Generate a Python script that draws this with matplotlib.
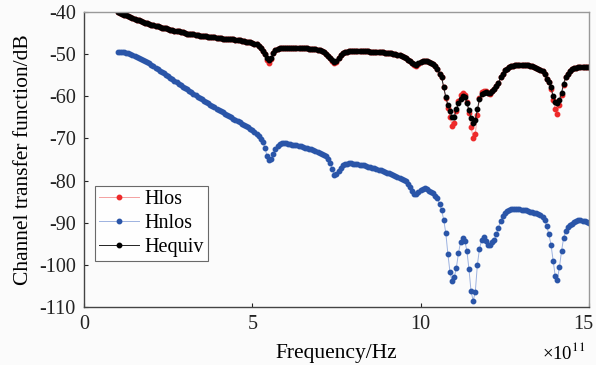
import numpy as np
import matplotlib
matplotlib.use("Agg")
import matplotlib.pyplot as plt
from matplotlib.transforms import ScaledTranslation

plt.rcParams['font.family'] = ['Liberation Serif', 'DejaVu Serif']
plt.rcParams['axes.unicode_minus'] = False
plt.rcParams['mathtext.fontset'] = 'stix'

# Frequency grid in units of 1e11 Hz (225 samples from 1 to 15)
freq = np.linspace(1.0, 15.0, 225)

h_equiv = [
    -40.0, -40.2, -40.4, -40.6, -40.8, -41.0, -41.2, -41.4, -41.6, -41.8,
    -42.0, -42.1, -42.3, -42.5, -42.6, -42.8, -43.0, -43.1, -43.3, -43.4,
    -43.5, -43.7, -43.8, -43.9, -44.1, -44.2, -44.3, -44.4, -44.5, -44.6,
    -44.7, -44.8, -45.0, -45.1, -45.2, -45.3, -45.3, -45.4, -45.5, -45.6,
    -45.7, -45.8, -45.8, -45.9, -45.9, -46.0, -46.0, -46.1, -46.2, -46.2,
    -46.3, -46.3, -46.4, -46.4, -46.5, -46.5, -46.6, -46.7, -46.7, -46.8,
    -46.9, -47.0, -47.1, -47.2, -47.3, -47.5, -47.7, -48.0, -48.5, -49.2,
    -50.0, -51.0, -51.4, -50.9, -49.8, -49.1, -48.7, -48.6, -48.5, -48.5,
    -48.5, -48.5, -48.5, -48.5, -48.5, -48.5, -48.5, -48.5, -48.5, -48.6,
    -48.6, -48.7, -48.7, -48.8, -48.8, -48.9, -49.0, -49.2, -49.5, -49.9,
    -50.4, -51.0, -51.5, -51.8, -51.6, -51.0, -50.3, -49.8, -49.5, -49.4,
    -49.3, -49.3, -49.2, -49.2, -49.2, -49.2, -49.2, -49.3, -49.3, -49.3,
    -49.4, -49.4, -49.5, -49.5, -49.5, -49.6, -49.6, -49.7, -49.7, -49.8,
    -49.8, -49.9, -50.0, -50.1, -50.2, -50.4, -50.6, -50.9, -51.3, -51.7,
    -52.1, -52.4, -52.5, -52.2, -51.8, -51.6, -51.6, -51.6, -51.8, -52.0,
    -52.3, -52.8, -53.5, -54.6, -55.5, -57.8, -60.2, -62.0, -63.6, -65.0,
    -64.8, -63.1, -61.7, -60.6, -60.0, -60.1, -61.5, -63.3, -65.2, -66.4,
    -65.7, -63.1, -60.6, -59.4, -59.1, -59.0, -59.1, -59.3, -58.8, -58.3,
    -57.6, -56.9, -55.5, -54.6, -53.8, -53.4, -53.1, -52.9, -52.7, -52.6,
    -52.5, -52.5, -52.5, -52.5, -52.6, -52.6, -52.7, -52.8, -53.0, -53.2,
    -53.4, -53.7, -54.1, -54.8, -55.8, -56.6, -57.9, -59.9, -61.3, -61.6,
    -60.8, -59.2, -57.0, -55.5, -54.7, -54.0, -53.6, -53.3, -53.2, -53.1,
    -53.0, -53.0, -53.0, -53.0, -53.0,
]

h_los = [
    -40.0, -40.2, -40.4, -40.6, -40.8, -41.0, -41.2, -41.4, -41.6, -41.8,
    -42.0, -42.1, -42.3, -42.5, -42.6, -42.8, -43.0, -43.1, -43.3, -43.4,
    -43.5, -43.7, -43.8, -43.9, -44.1, -44.2, -44.3, -44.4, -44.5, -44.6,
    -44.7, -44.8, -45.0, -45.1, -45.2, -45.3, -45.3, -45.4, -45.5, -45.6,
    -45.7, -45.8, -45.8, -45.9, -45.9, -46.0, -46.0, -46.1, -46.2, -46.2,
    -46.3, -46.3, -46.4, -46.4, -46.5, -46.5, -46.6, -46.7, -46.7, -46.8,
    -46.9, -47.0, -47.1, -47.2, -47.3, -47.5, -47.7, -48.0, -48.5, -49.2,
    -50.0, -51.3, -52.0, -51.2, -49.8, -49.1, -48.7, -48.6, -48.5, -48.5,
    -48.5, -48.5, -48.5, -48.5, -48.5, -48.5, -48.5, -48.5, -48.5, -48.6,
    -48.6, -48.7, -48.7, -48.8, -48.8, -48.9, -49.0, -49.2, -49.5, -49.9,
    -50.4, -51.0, -51.7, -52.2, -51.9, -51.0, -50.3, -49.8, -49.5, -49.4,
    -49.3, -49.3, -49.2, -49.2, -49.2, -49.2, -49.2, -49.3, -49.3, -49.3,
    -49.4, -49.4, -49.5, -49.5, -49.5, -49.6, -49.6, -49.7, -49.7, -49.8,
    -49.8, -49.9, -50.0, -50.1, -50.2, -50.4, -50.6, -50.9, -51.3, -51.7,
    -52.1, -52.6, -52.9, -52.4, -51.8, -51.6, -51.6, -51.6, -51.8, -52.0,
    -52.3, -52.8, -53.5, -54.6, -55.5, -57.9, -60.5, -62.8, -65.0, -67.0,
    -66.3, -63.4, -61.2, -59.8, -59.3, -59.6, -61.4, -64.0, -67.3, -69.8,
    -69.0, -64.5, -60.5, -59.0, -58.8, -58.8, -59.1, -59.4, -58.8, -58.3,
    -57.6, -56.9, -55.5, -54.6, -53.8, -53.4, -53.1, -52.9, -52.7, -52.6,
    -52.5, -52.5, -52.5, -52.5, -52.6, -52.6, -52.7, -52.8, -53.0, -53.2,
    -53.4, -53.7, -54.1, -54.8, -55.8, -56.6, -58.2, -60.8, -63.0, -64.2,
    -62.0, -59.6, -57.2, -55.5, -54.7, -54.0, -53.6, -53.3, -53.2, -53.1,
    -53.0, -53.0, -53.0, -53.0, -53.0,
]

h_nlos = [
    -49.5, -49.5, -49.5, -49.6, -49.7, -49.8, -50.0, -50.2, -50.4, -50.6,
    -50.9, -51.1, -51.4, -51.6, -51.9, -52.2, -52.5, -52.8, -53.2, -53.5,
    -53.9, -54.2, -54.5, -54.9, -55.2, -55.6, -55.9, -56.3, -56.6, -57.0,
    -57.3, -57.7, -58.0, -58.3, -58.7, -59.0, -59.4, -59.7, -60.1, -60.4,
    -60.7, -61.0, -61.3, -61.6, -62.0, -62.3, -62.6, -62.9, -63.2, -63.5,
    -63.8, -64.1, -64.4, -64.7, -65.0, -65.3, -65.6, -65.9, -66.2, -66.5,
    -66.8, -67.1, -67.4, -67.7, -68.0, -68.4, -68.9, -69.5, -70.2, -70.9,
    -72.2, -74.2, -75.2, -74.9, -73.6, -72.5, -71.8, -71.4, -71.2, -71.2,
    -71.2, -71.3, -71.4, -71.5, -71.5, -71.6, -71.8, -71.9, -72.0, -72.2,
    -72.3, -72.4, -72.6, -72.7, -72.9, -73.1, -73.4, -73.6, -73.9, -74.2,
    -74.8, -75.8, -77.3, -78.6, -78.4, -77.7, -76.9, -76.4, -76.1, -76.0,
    -75.9, -75.9, -76.0, -76.1, -76.1, -76.2, -76.3, -76.4, -76.5, -76.7,
    -76.8, -76.9, -77.1, -77.2, -77.4, -77.6, -77.8, -77.9, -78.1, -78.3,
    -78.5, -78.7, -78.9, -79.1, -79.4, -79.6, -79.9, -80.2, -80.8, -81.6,
    -82.4, -83.2, -83.3, -82.8, -82.3, -82.0, -81.8, -82.0, -82.4, -82.7,
    -83.0, -83.6, -84.2, -85.5, -87.0, -89.3, -92.5, -97.5, -101.8, -103.9,
    -103.0, -100.7, -97.3, -94.6, -93.7, -94.3, -96.6, -101.0, -106.3, -108.5,
    -106.5, -100.0, -96.2, -94.2, -93.5, -94.3, -95.3, -95.3, -94.6, -94.1,
    -92.8, -91.2, -89.6, -88.5, -87.6, -87.2, -87.0, -86.8, -86.7, -86.7,
    -86.7, -86.8, -86.9, -87.0, -87.1, -87.2, -87.4, -87.5, -87.6, -87.7,
    -87.9, -88.2, -88.7, -89.4, -90.8, -92.8, -95.2, -99.0, -102.6, -103.6,
    -100.6, -96.8, -93.6, -92.0, -91.1, -90.6, -90.2, -89.8, -89.5, -89.4,
    -89.4, -89.5, -89.7, -89.9, -90.0,
]

x_ticks = [0, 5, 10, 15]
y_ticks = [-40, -50, -60, -70, -80, -90, -100, -110]

fig = plt.figure(figsize=(5.96, 3.65), dpi=100, facecolor='#fbfbfb')
ax = fig.add_axes([0.141, 0.159, 0.847, 0.808])
ax.set_facecolor('#fbfbfb')

ax.plot(freq, h_los, '-', color='#f4a0a0', lw=0.7, marker='o', ms=3.2,
        mfc='#ee2a2a', mec='#ee2a2a', label='Hlos')
ax.plot(freq, h_nlos, '-', color='#9db2e0', lw=0.7, marker='o', ms=3.2,
        mfc='#2a55a8', mec='#2a55a8', label='Hnlos')
ax.plot(freq, h_equiv, '-', color='#222222', lw=0.7, marker='o', ms=3.2,
        mfc='#000000', mec='#000000', label='Hequiv')

ax.set_xlim(0, 15)
ax.set_ylim(-110, -40)
ax.set_xticks(x_ticks)
ax.set_yticks(y_ticks)
ax.set_xticklabels([str(t) for t in x_ticks])
ax.set_yticklabels([str(t) for t in y_ticks])
ax.tick_params(direction='in', length=3, width=0.8, labelsize=14.5, colors='#222222',
               top=False, right=False)
ax.tick_params(axis='y', pad=6)
ax.tick_params(axis='x', pad=6)
# keep the last x tick label inside the canvas
last = ax.get_xticklabels()[-1]
last.set_transform(last.get_transform() + ScaledTranslation(-4 / 72, 0, fig.dpi_scale_trans))

for s in ['left', 'bottom']:
    ax.spines[s].set_color('#444444')
    ax.spines[s].set_linewidth(1.0)
for s in ['top', 'right']:
    ax.spines[s].set_color('#999999')
    ax.spines[s].set_linewidth(1.0)

ax.set_xlabel('Frequency/Hz', fontsize=15.5, labelpad=7)
ax.set_ylabel('Channel transfer function/dB', fontsize=15.5, labelpad=4)
fig.text(0.983, 0.035, r'×10$^{11}$', ha='right', va='center', fontsize=13.5)

leg = ax.legend(loc='upper left', bbox_to_anchor=(0.021, 0.41), fontsize=14.5,
                frameon=True, fancybox=False, handlelength=2.0, handletextpad=0.25,
                borderpad=0.2, labelspacing=0.25, borderaxespad=0.0)
leg.get_frame().set_edgecolor('#444444')
leg.get_frame().set_linewidth(0.8)
leg.get_frame().set_facecolor('white')

fig.savefig('out.png', dpi=100, facecolor=fig.get_facecolor())
